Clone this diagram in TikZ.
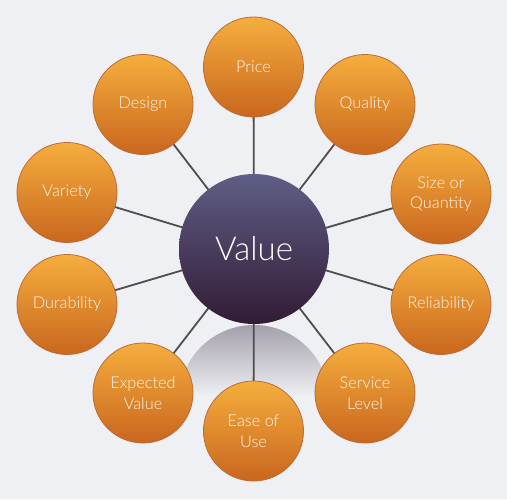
\documentclass[tikz,border=0pt]{standalone}
\usepackage{fontspec}
\setmainfont{Lato}
\newfontfamily\lightfont{Lato Light}
\usetikzlibrary{backgrounds}
\definecolor{bgc}{HTML}{EEF0F3}
\definecolor{orTop}{HTML}{F5AE3D}
\definecolor{orBot}{HTML}{C9661E}
\definecolor{orEdge}{HTML}{BE6A3A}
\definecolor{vTop}{HTML}{5F5E86}
\definecolor{vBot}{HTML}{321B34}
\definecolor{lineC}{HTML}{4E4E50}
\definecolor{reflC}{HTML}{A39EAB}
\definecolor{txtC}{HTML}{FFF6EA}
\pgfdeclarelayer{bottom}
\pgfdeclarelayer{lines}
\pgfsetlayers{bottom,lines,main}
\tikzset{
  outer/.style={circle, minimum size=100pt, inner sep=0pt, draw=orEdge, line width=0.8pt,
    top color=orTop, bottom color=orBot, text=txtC, align=center,
    font=\lightfont\fontsize{16.3}{20.5}\selectfont},
  hub/.style={circle, minimum size=150pt, inner sep=0pt,
    top color=vTop, bottom color=vBot, text=white,
    font=\lightfont\fontsize{33}{40}\selectfont},
  conn/.style={draw=lineC, line width=1.8pt}
}
\begin{document}
\begin{tikzpicture}[x=1pt,y=-1pt]
\begin{pgfonlayer}{bottom}
  \fill[bgc] (0,0) rectangle (507,499);
  \begin{scope}
    \clip (254,400) circle[radius=75];
    \shade[top color=reflC, bottom color=bgc] (170,324) rectangle (340,396);
  \end{scope}
\end{pgfonlayer}
\useasboundingbox (0,0) rectangle (507,499);

\node[hub] (v) at (254,249) {Value};
\node[outer] (price) at (253.5,67) {Price};
\node[outer] (quality) at (365,104.5) {Quality};
\node[outer] (size) at (441,194) {Size or\\Quantity};
\node[outer] (rel) at (441,304.5) {Reliability};
\node[outer] (serv) at (365,393) {Service\\Level};
\node[outer] (ease) at (253.5,431) {Ease of\\Use};
\node[outer] (exp) at (143,393) {Expected\\Value};
\node[outer] (dur) at (67,304.5) {Durability};
\node[outer] (var) at (67,192.5) {Variety};
\node[outer] (des) at (143,104.5) {Design};

\begin{pgfonlayer}{lines}
  \foreach \n in {price,quality,size,rel,serv,ease,exp,dur,var,des}
    \draw[conn] (v.center) -- (\n.center);
\end{pgfonlayer}
\end{tikzpicture}
\end{document}
